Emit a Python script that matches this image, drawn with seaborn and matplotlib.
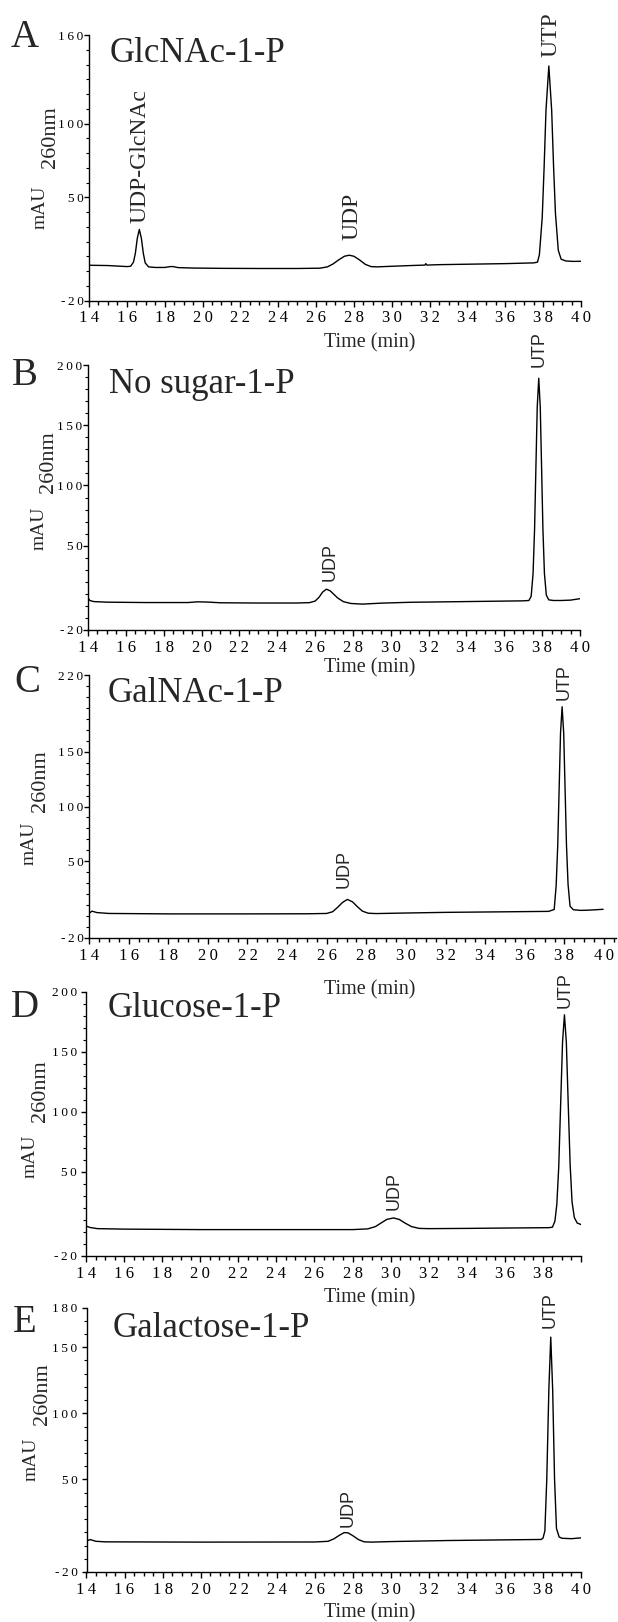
import numpy as np
import pandas as pd
import matplotlib
matplotlib.use("Agg")
import matplotlib.pyplot as plt
from matplotlib.ticker import MultipleLocator
import seaborn as sns

sns.set_theme(style="ticks")
plt.rcParams["font.family"] = ["Liberation Serif", "DejaVu Serif"]

# ---------------- data ----------------
panel_letters = ["A", "B", "C", "D", "E"]
panel_titles = ["GlcNAc-1-P", "No sugar-1-P", "GalNAc-1-P", "Glucose-1-P", "Galactose-1-P"]

time_a = [14.0, 15.0, 16.0, 16.2, 16.35, 16.45, 16.55, 16.66, 16.77, 16.87, 16.97, 17.15, 17.5, 18.0,
          18.3, 18.45, 18.7, 19.5, 21.0, 23.0, 25.0, 26.2, 26.6, 26.9, 27.2, 27.5, 27.75, 28.0, 28.3,
          28.6, 28.9, 29.2, 30.0, 31.0, 31.75, 31.8, 31.85, 32.5, 34.0, 36.0, 37.5, 37.7, 37.8, 37.95,
          38.05, 38.15, 38.3, 38.45, 38.55, 38.65, 38.8, 38.95, 39.2, 39.6, 40.0]
abs_a = [3.9, 3.7, 3.0, 3.2, 6.0, 12.0, 22.0, 28.2, 22.0, 12.0, 5.5, 2.8, 2.4, 2.4,
         3.0, 3.0, 2.3, 2.0, 1.8, 1.7, 1.7, 1.9, 2.8, 4.8, 7.6, 10.0, 10.7, 10.0, 7.5,
         4.5, 3.0, 2.8, 3.2, 3.7, 4.0, 5.0, 4.0, 4.3, 4.6, 5.0, 5.5, 6.0, 11.0, 36.0,
         70.0, 109.0, 139.0, 109.0, 71.0, 39.0, 14.0, 8.0, 6.8, 6.5, 6.6]

time_b = [14.0, 14.1, 14.3, 15.0, 17.0, 19.3, 19.8, 20.3, 21.0, 23.0, 25.0, 25.7, 26.0, 26.2,
          26.4, 26.6, 26.8, 27.0, 27.2, 27.5, 27.9, 28.5, 29.5, 31.0, 33.0, 35.0, 37.0, 37.3,
          37.42, 37.52, 37.6, 37.67, 37.74, 37.82, 37.9, 37.97, 38.04, 38.12, 38.22, 38.35,
          38.6, 39.0, 39.5, 40.0]
abs_b = [6.5, 4.5, 3.6, 3.1, 2.8, 2.8, 3.4, 3.2, 2.6, 2.4, 2.4, 2.7, 4.0, 7.0,
         11.5, 13.9, 12.5, 9.5, 6.5, 3.5, 2.0, 1.5, 2.3, 3.0, 3.4, 3.8, 4.2, 4.5,
         8.0, 27.0, 64.0, 115.0, 165.0, 189.0, 165.0, 115.0, 64.0, 27.0, 9.0, 5.0,
         4.5, 4.5, 4.8, 6.0]

time_c = [14.0, 14.15, 14.4, 15.0, 18.0, 22.0, 25.0, 26.0, 26.3, 26.55, 26.8, 27.04, 27.3,
          27.55, 27.8, 28.1, 28.5, 30.0, 32.0, 35.0, 37.2, 37.48, 37.58, 37.66, 37.73, 37.8,
          37.88, 37.96, 38.03, 38.1, 38.18, 38.28, 38.45, 38.8, 39.2, 39.6, 39.95]
abs_c = [2.5, 4.5, 3.2, 2.4, 2.0, 2.0, 2.1, 2.4, 4.0, 8.0, 12.5, 15.2, 13.0,
         8.5, 4.5, 2.6, 2.3, 2.8, 3.4, 3.9, 4.3, 6.0, 28.0, 65.0, 116.0, 167.0,
         191.0, 167.0, 116.0, 65.0, 29.0, 9.0, 5.8, 5.2, 5.4, 5.8, 6.2]

time_d = [14.0, 14.2, 14.6, 16.0, 20.0, 24.0, 28.0, 28.8, 29.2, 29.5, 29.8, 30.15, 30.45,
          30.75, 31.1, 31.5, 32.0, 34.0, 36.0, 38.3, 38.5, 38.63, 38.73, 38.83, 38.93, 39.03,
          39.13, 39.23, 39.33, 39.43, 39.53, 39.65, 39.8, 40.0]
abs_d = [5.0, 3.8, 2.8, 2.4, 2.0, 2.0, 2.0, 2.6, 4.5, 7.5, 10.5, 11.7, 10.5,
         7.5, 4.5, 3.0, 2.8, 3.0, 3.3, 3.6, 4.0, 9.0, 23.0, 54.0, 106.0, 158.0,
         181.0, 158.0, 106.0, 56.0, 25.0, 12.0, 7.5, 6.2]

time_e = [14.0, 14.2, 14.5, 15.0, 20.0, 26.0, 26.7, 27.0, 27.3, 27.55, 27.75, 28.0, 28.3,
          28.6, 29.0, 30.0, 33.0, 36.0, 37.9, 38.0, 38.1, 38.2, 38.31, 38.41, 38.51, 38.61,
          38.71, 38.85, 39.0, 39.5, 40.0]
abs_e = [3.5, 4.5, 3.2, 2.8, 2.6, 2.7, 3.2, 5.0, 7.8, 9.8, 9.6, 7.5, 4.5,
         2.8, 2.6, 3.0, 3.8, 4.3, 4.6, 5.5, 11.0, 50.0, 118.0, 157.6, 118.0, 50.0,
         13.0, 6.5, 5.5, 5.2, 5.8]

# peak annotations: (label, time, absorbance at label foot)
peaks_a = [("UDP-GlcNAc", 16.7, 32.5), ("UDP", 27.9, 21.0), ("UTP", 38.4, 145.0)]
peaks_b = [("UDP", 26.8, 20.8), ("UTP", 37.84, 198.0)]
peaks_c = [("UDP", 26.9, 26.0), ("UTP", 37.98, 197.0)]
peaks_d = [("UDP", 30.2, 18.0), ("UTP", 39.17, 187.0)]
peaks_e = [("UDP", 27.77, 13.9), ("UTP", 38.39, 164.6)]

x_ticks = [14, 16, 18, 20, 22, 24, 26, 28, 30, 32, 34, 36, 38, 40]
x_tick_labels = ["14", "16", "18", "20", "22", "24", "26", "28", "30", "32", "34", "36", "38", "40"]
x_tick_labels_d = ["14", "16", "18", "20", "22", "24", "26", "28", "30", "32", "34", "36", "38", ""]

y_ticks_a = [-20, 50, 100, 160]
y_ticks_b = [-20, 50, 100, 150, 200]
y_ticks_c = [-20, 50, 100, 150, 220]
y_ticks_d = [-20, 50, 100, 150, 200]
y_ticks_e = [-20, 50, 100, 150, 180]

x_label = "Time (min)"
y_label_main = "mAU"
y_label_sub = "260nm"

# ---------------- layout (pixel positions in a 618 x 1622 canvas) ----------------
W, H = 618, 1622
# left, right(px at xmax), top(px at ymax), bottom(px at -20), xmax, ymax
layout = [
    (89, 581, 35, 300.5, 40.0, 160),
    (88, 580, 365, 630, 40.0, 200),
    (89, 616, 675, 938, 40.6, 220),
    (86, 581, 992, 1256, 40.0, 200),
    (86.5, 581, 1307.5, 1572, 40.0, 180),
]
ytick_pad = [0.5, 0.5, 0.5, 3.0, 3.0]
letter_pos = [(25, 47), (25, 385), (27, 692), (25, 1017), (25, 1332)]
title_pos = [(110, 62), (109, 393), (108, 702), (108, 1017), (113, 1337)]
xlabel_y = [343, 668, 990, 1298, 1613]
mau_pos = [(40, 207), (39, 528), (29, 843), (30, 1156), (31, 1459)]
sub_bottom = [(50, 168), (49, 493), (40, 812), (41, 1122), (42, 1425)]

traces = [(time_a, abs_a), (time_b, abs_b), (time_c, abs_c), (time_d, abs_d), (time_e, abs_e)]
peak_sets = [peaks_a, peaks_b, peaks_c, peaks_d, peaks_e]
y_tick_sets = [y_ticks_a, y_ticks_b, y_ticks_c, y_ticks_d, y_ticks_e]
x_label_sets = [x_tick_labels, x_tick_labels, x_tick_labels, x_tick_labels_d, x_tick_labels]

THIN = "\u2009"


def spaced(s):
    return THIN.join(list(s))


fig = plt.figure(figsize=(W / 100, H / 100), dpi=100)
fig.patch.set_facecolor("white")

for i in range(5):
    left, right, top, bottom, xmax, ymax = layout[i]
    ax = fig.add_axes([left / W, 1 - bottom / H, (right - left) / W, (bottom - top) / H])
    ax.set_facecolor("white")
    t, v = traces[i]
    df = pd.DataFrame({"time": t, "mAU": v})
    sns.lineplot(data=df, x="time", y="mAU", ax=ax, color="black", linewidth=1.0,
                 estimator=None, sort=False)
    ax.set_xlim(14, xmax)
    ax.set_ylim(-20, ymax)
    ax.set_xlabel("")
    ax.set_ylabel("")
    for s in ["top", "right"]:
        ax.spines[s].set_visible(False)
    for s in ["left", "bottom"]:
        ax.spines[s].set_color("black")
        ax.spines[s].set_linewidth(1.0)
    ax.set_xticks(x_ticks)
    ax.set_xticklabels([spaced(s) for s in x_label_sets[i]], fontsize=12)
    ax.xaxis.set_minor_locator(MultipleLocator(0.5))
    yt = y_tick_sets[i]
    ax.set_yticks(yt)
    ax.set_yticklabels([spaced(str(y)) for y in yt], fontsize=9.5)
    ax.yaxis.set_minor_locator(MultipleLocator(10))
    ax.tick_params(axis="x", which="major", direction="out", length=4.0, width=1.0, pad=3, colors="black")
    ax.tick_params(axis="x", which="minor", direction="out", length=3.0, width=1.0, colors="black")
    ax.tick_params(axis="y", which="major", direction="out", length=3.5, width=1.0,
                   pad=ytick_pad[i], colors="black")
    ax.tick_params(axis="y", which="minor", direction="out", length=2.5, width=0.8, colors="black")
    ax.grid(False)

    # peak labels
    sans = i > 0
    for lab, pt, pv in peak_sets[i]:
        ax.text(pt, pv, lab, rotation=90, ha="center", va="bottom",
                fontsize=13 if sans else 17,
                family=["Liberation Sans", "DejaVu Sans"] if sans else ["Liberation Serif", "DejaVu Serif"],
                clip_on=False)

    # panel letter and title
    lx, ly = letter_pos[i]
    fig.text(lx / W, 1 - ly / H, panel_letters[i], ha="center", va="baseline", fontsize=28)
    tx, ty = title_pos[i]
    fig.text(tx / W, 1 - ty / H, panel_titles[i], ha="left", va="baseline", fontsize=25)

    # axis labels
    fig.text(370 / W, 1 - xlabel_y[i] / H, x_label, ha="center", va="center", fontsize=14.5)
    mx, my = mau_pos[i]
    fig.text(mx / W, 1 - my / H, y_label_main, rotation=90, ha="center", va="center", fontsize=14)
    sx, sy = sub_bottom[i]
    fig.text(sx / W, 1 - sy / H, y_label_sub, rotation=90, ha="center", va="bottom", fontsize=16)

fig.savefig("out.png", dpi=100, facecolor="white")
